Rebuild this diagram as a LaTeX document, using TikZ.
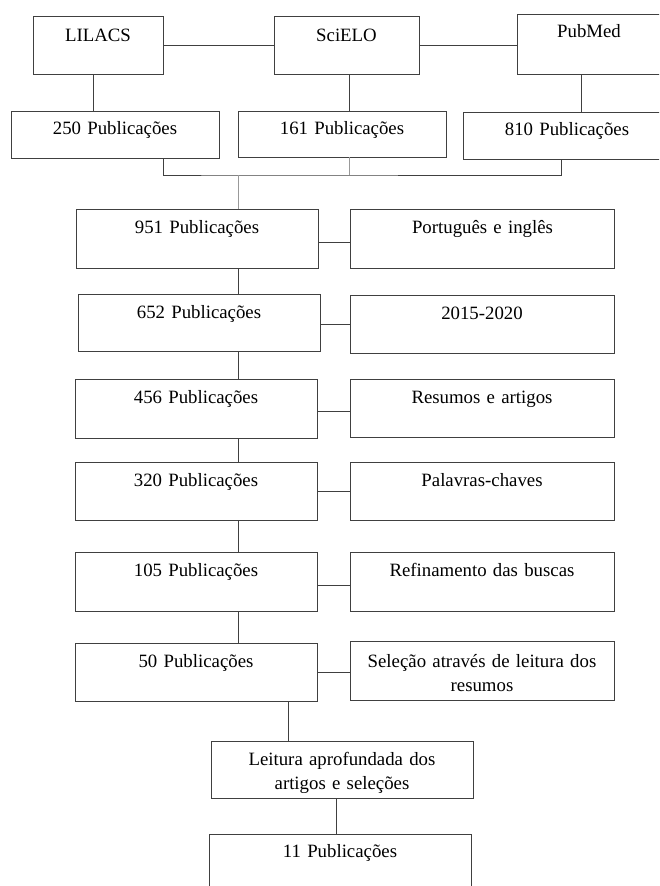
\documentclass[tikz,border=0pt]{standalone}
\usepackage{fontspec}
\setmainfont{Liberation Serif}
\usepackage{tikz}
\tikzstyle{block} = [draw=black!75, line width=0.9pt, inner sep=0pt, align=center,
    text width=242pt, text height=24pt, text depth=34pt]
\tikzstyle{crit} = [block, text width=264pt]
\tikzstyle{base} = [block, text width=130pt, text height=25pt, text depth=33pt]
\tikzstyle{pubbox} = [block, text width=208pt, text height=23pt, text depth=24pt]
\tikzstyle{link} = [draw=black!75, line width=0.9pt]

\begin{document}
\begin{tikzpicture}[x=1pt, y=-1pt, node font=\fontsize{18.8pt}{24.5pt}\selectfont]
  \useasboundingbox (0,0) rectangle (659,886);
  \clip (0,0) rectangle (659,886);
  % Place nodes
  \node [base] (lilacs) at (98,45) {LILACS};
  \node [base, text width=145pt] (scielo) at (346.5,45) {SciELO};
  \node [base, text width=144pt, text height=23pt, text depth=37pt] (pubmed) at (589,44) {PubMed};
  \node [pubbox] (p250) at (115,134.5) {250 Publicações};
  \node [pubbox, text depth=23pt] (p161) at (342,134) {161 Publicações};
  \node [pubbox] (p810) at (567,135.5) {810 Publicações};

  \node [block, text depth=35pt] (p951) at (197,238.5) {951 Publicações};
  \node [crit, text depth=35pt] (lang) at (482.5,238.5) {Português e inglês};
  \node [block, text depth=33pt] (p652) at (199,322.5) {652 Publicações};
  \node [crit] (years) at (482,324) {2015-2020};
  \node [block, text depth=35pt] (p456) at (196,408.5) {456 Publicações};
  \node [crit] (abstr) at (482,408) {Resumos e artigos};
  \node [block] (p320) at (196,491) {320 Publicações};
  \node [crit] (keyw) at (482,491) {Palavras-chaves};
  \node [block, text depth=35pt] (p105) at (196,581.5) {105 Publicações};
  \node [crit, text depth=35pt] (refine) at (482,581.5) {Refinamento das buscas};
  \node [block] (p50) at (196,672) {50 Publicações};
  \node [crit, text height=26pt, text depth=33pt] (select) at (482,670.5)
  {Seleção através de leitura dos\\resumos};
  \node [block, text width=262pt, text depth=33pt] (reading) at (342,769.5)
  {Leitura aprofundada dos\\artigos e seleções};
  \node [block, text width=262pt, text height=23pt, text depth=35pt] (p11) at (340,863) {11 Publicações};

  % Connectors
  \coordinate (join) at (238,175);
  \coordinate (spine) at (238,0);
  \coordinate (drop) at (288,0);
  \draw [link] (lilacs) -- (scielo);
  \draw [link] (scielo.east) -- (scielo.east -| pubmed.west);
  \draw [link] ([xshift=-5pt]lilacs.south) -- ([xshift=-5pt]lilacs.south |- p250.north);
  \draw [link] ([xshift=3pt]scielo.south) -- ([xshift=3pt]scielo.south |- p161.north);
  \draw [link] ([xshift=-8pt]pubmed.south) -- ([xshift=-8pt]pubmed.south |- p810.north);
  \draw [link] ([xshift=48pt]p250.south) |- (join) -| ([xshift=-6pt]p810.south);
  \draw [link, draw=black!40] ([xshift=7pt]p161.south) -- ([xshift=7pt]p161.south |- join);
  \draw [link, draw=black!40] (join) -- (join |- p951.north);

  \foreach \a/\b in {p951/p652, p652/p456, p456/p320, p320/p105, p105/p50}
    \draw [link] (\a.south -| spine) -- (\b.north -| spine);
  \draw [link] (p50.south -| drop) -- (reading.north -| drop);
  \draw [link] ([xshift=-6pt]reading.south) -- ([xshift=-6pt]reading.south |- p11.north);

  \foreach \a/\b/\d in {p951/lang/3.5, p652/years/1.5, p456/abstr/2.5, p320/keyw/0, p105/refine/3.5, p50/select/0}
    \draw [link] ([yshift=-\d pt]\a.east) -- ([yshift=-\d pt]\a.east -| \b.west);
\end{tikzpicture}
\end{document}
